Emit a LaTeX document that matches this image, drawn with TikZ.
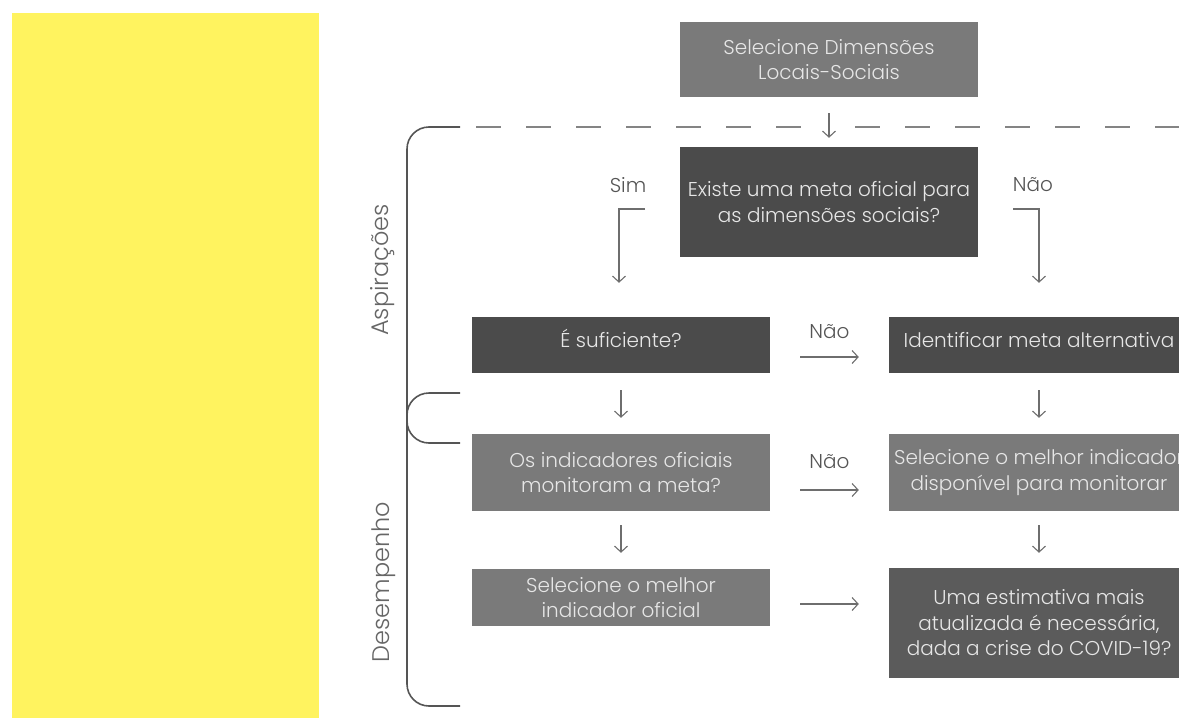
\documentclass[tikz,border=0pt]{standalone}
\usepackage{fontspec}
\setmainfont{Poppins}[UprightFont={* Light}]
\usetikzlibrary{arrows.meta,calc}
\definecolor{lemon}{HTML}{FFF35F}
\definecolor{boxdark}{HTML}{4B4B4B}
\definecolor{boxmid}{HTML}{7A7A7A}
\definecolor{boxdeep}{HTML}{5B5B5B}
\definecolor{inkline}{HTML}{6E6E6E}
\definecolor{braceline}{HTML}{555555}
\definecolor{boxtext}{HTML}{E6E6E6}
\definecolor{labeltext}{HTML}{555555}
\begin{document}
\begin{tikzpicture}[x=1pt,y=-1pt,
  card/.style={rectangle, minimum width=298pt, inner sep=0pt, align=center,
    text=boxtext, font=\fontsize{20}{25.5}\selectfont},
  oneline/.style={text height=0.72em, text depth=0.22em},
  tag/.style={text=labeltext, inner sep=0pt, font=\fontsize{20}{24}\selectfont},
  sidetag/.style={text=labeltext!90!white, inner sep=0pt, rotate=90,
    font=\fontsize{24}{28}\selectfont},
  flow/.style={draw=inkline, line width=1.1pt,
    -{Straight Barb[length=6pt,width=13pt,line width=1.1pt]}},
  bracket/.style={draw=braceline, line width=1.6pt, rounded corners=22pt},
  divider/.style={draw=inkline!85!white, line width=1.4pt, dash pattern=on 25pt off 25pt}
]
\useasboundingbox (0,0) rectangle (1179,718);
\clip (0,0) rectangle (1179,718);

% yellow panel
\fill[lemon] (12,13) rectangle (319,718);

% flow boxes
\node[card, fill=boxmid,  minimum height=75pt] (dims) at (829,59.5)
  {Selecione Dimensões\\Locais-Sociais};
\node[card, fill=boxdark, minimum height=110pt] (meta) at (829,202)
  {Existe uma meta oficial para\\as dimensões sociais?};
\node[card, oneline, fill=boxdark, minimum height=56pt] (suf) at (621,345) {É suficiente?};
\node[card, oneline, fill=boxdark, minimum height=56pt, minimum width=300pt] (alt) at (1039,345)
  {Identificar meta alternativa};
\node[card, fill=boxmid, minimum height=77pt] (mon) at (621,472.5)
  {Os indicadores oficiais\\monitoram a meta?};
\node[card, fill=boxmid, minimum height=77pt, minimum width=300pt] (disp) at (1039,472.5)
  {Selecione o melhor indicador\\disponível para monitorar};
\node[card, fill=boxmid, minimum height=57pt] (ofic) at (621,597.5)
  {Selecione o melhor\\indicador oficial};
\node[card, fill=boxdeep, minimum height=110pt, minimum width=300pt] (covid) at (1039,623)
  {Uma estimativa mais\\atualizada é necessária,\\dada a crise do COVID-19?};

% section brackets and dashed divider
\draw[bracket] (460,127) -- (407,127) -- (407,443) -- (460,443);
\draw[bracket] (460,393) -- (407,393) -- (407,706) -- (460,706);
\draw[divider] (476,127) -- (806,127);
\draw[divider] (855,127) -- (1200,127);

\node[sidetag] (asp) at (383,270) {Aspirações};
\node[sidetag] (des) at (384,582) {Desempenho};

% connectors
\draw[flow, shorten <=16pt, shorten >=9pt] (dims) -- (meta);

\node[tag] (sim) at (628,185) {Sim};
\node[tag] (naoA) at (1033,185) {Não};
\coordinate (simfrom) at (645,209);
\coordinate (naofrom) at (1013,209);
\draw[flow] (simfrom) -| ($(suf.north)+(-2,-34)$);
\draw[flow] (naofrom) -| ($(alt.north)+(0,-34)$);

\draw[flow, shorten <=17pt, shorten >=16pt] (suf) -- (mon);
\draw[flow, shorten <=17pt, shorten >=16pt] (alt) -- (disp);
\draw[flow, shorten <=14pt, shorten >=16pt] (mon) -- (ofic);
\draw[flow, shorten <=14pt, shorten >=15pt] (disp) -- (covid);

\draw[flow, shorten <=30pt, shorten >=30pt] ($(suf.east)+(0,12)$) -- ($(alt.west)+(0,12)$)
  node[tag, midway, yshift=25pt] (naoB) {Não};
\draw[flow, shorten <=30pt, shorten >=30pt] ($(mon.east)+(0,17.5)$) -- ($(disp.west)+(0,17.5)$)
  node[tag, midway, yshift=28pt] (naoC) {Não};
\draw[flow, shorten <=30pt, shorten >=30pt] ($(ofic.east)+(0,6.5)$) -- ($(covid.west |- ofic.east)+(0,6.5)$);
\end{tikzpicture}
\end{document}
